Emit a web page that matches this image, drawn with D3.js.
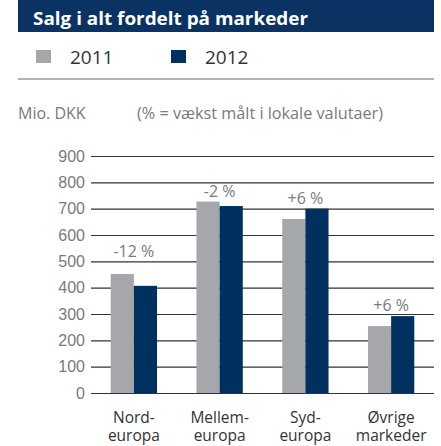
<!DOCTYPE html>
<html lang="da">
<head>
    <meta charset="UTF-8">
    <title>Salg i alt fordelt på markeder</title>
    <script src="https://d3js.org/d3.v7.min.js"></script>
    <style>
        body { margin: 0; background: #fff; }
        svg { display: block; font-family: "Open Sans", Lato, sans-serif; }
        .light { fill: #7a7a7a; }
        .tick text { fill: #7a7a7a; font-size: 16px; }
    </style>
</head>
<body>
<svg id="canvas" width="441" height="446"></svg>
<script>
    // data
    const markets = [["Nord-", "europa"], ["Mellem-", "europa"], ["Syd-", "europa"], ["Øvrige", "markeder"]];
    const years = ["2011", "2012"];
    const sales2011 = [452, 727, 661, 254];
    const sales2012 = [407, 710, 700, 292];
    const growth = ["-12 %", "-2 %", "+6 %", "+6 %"];
    const yTicks = [0, 100, 200, 300, 400, 500, 600, 700, 800, 900];

    const gray = "#a6a7ab", navy = "#00305f";
    const svg = d3.select("#canvas");

    // title band
    svg.append("rect").attr("x", 18).attr("y", 0).attr("width", 416).attr("height", 32).attr("fill", "#0a3262");
    svg.append("text").attr("x", 33).attr("y", 25).attr("fill", "#fff")
        .attr("textLength", 275).attr("lengthAdjust", "spacingAndGlyphs")
        .style("font-size", "18px").style("font-weight", "bold").text("Salg i alt fordelt på markeder");

    // legend
    let colors = d3.scaleOrdinal().domain(years).range([gray, navy]);
    let legendX = d3.scalePoint().domain(years).range([36, 171]);
    let lg = svg.selectAll(".legend").data(years).enter().append("g")
        .attr("transform", d => "translate(" + legendX(d) + ",50)");
    lg.append("rect").attr("width", 15).attr("height", 13).attr("fill", d => colors(d));
    lg.append("text").attr("x", 34).attr("y", 14).attr("fill", "#333").style("font-size", "19px").text(d => d);
    svg.append("line").attr("x1", 18).attr("x2", 434).attr("y1", 79).attr("y2", 79)
        .attr("stroke", "#666").attr("stroke-width", 1.2);

    svg.append("text").attr("class", "light").attr("x", 18).attr("y", 119)
        .style("font-size", "16px").text("Mio. DKK");
    svg.append("text").attr("class", "light").attr("x", 137).attr("y", 119)
        .attr("textLength", 246).attr("lengthAdjust", "spacingAndGlyphs")
        .style("font-size", "16px").text("(%  = vækst målt i lokale valutaer)");

    // scales
    let x = d3.scaleBand().domain(d3.range(markets.length)).range([91, 434])
        .paddingInner(0.46).paddingOuter(0.23);
    let xs = d3.scaleBand().domain(years).range([0, x.bandwidth()]);
    let y = d3.scaleLinear().domain([0, 900]).range([393, 156]);

    // grid + y axis
    let yAxis = d3.axisLeft(y).tickValues(yTicks).tickSize(0).tickPadding(6);
    let ag = svg.append("g").attr("transform", "translate(91,0)").call(yAxis);
    ag.select(".domain").remove();
    ag.selectAll(".tick text").attr("font-family", null).attr("font-size", null);
    ag.selectAll(".tick line").attr("x2", 343).attr("stroke", "#333").attr("stroke-width", 1.1);

    // bars
    let groups = svg.selectAll(".market").data(markets).enter().append("g")
        .attr("transform", (d, i) => "translate(" + x(i) + ",0)");
    groups.selectAll("rect")
        .data((d, i) => [sales2011[i], sales2012[i]].map((v, k) => ({year: years[k], value: v})))
        .enter().append("rect")
        .attr("x", d => xs(d.year))
        .attr("width", xs.bandwidth())
        .attr("y", d => y(d.value))
        .attr("height", d => y(0) - y(d.value))
        .attr("fill", d => colors(d.year));

    // growth labels: just above the taller bar, pushed over a gridline if they would sit on it
    function labelY(i) {
        let base = y(Math.max(sales2011[i], sales2012[i])) - 5;
        let hit = yTicks.map(y).find(g => g > base - 12 && g < base + 2);
        return hit === undefined ? base : hit - 4;
    }
    groups.append("text").attr("class", "light")
        .attr("x", x.bandwidth() / 2)
        .attr("y", (d, i) => labelY(i))
        .attr("text-anchor", "middle")
        .style("font-size", "16px")
        .text((d, i) => growth[i]);

    // category labels
    let cl = groups.append("text").attr("text-anchor", "middle").attr("fill", "#333").style("font-size", "15.5px");
    cl.append("tspan").attr("x", x.bandwidth() / 2).attr("y", 423).text(d => d[0]);
    cl.append("tspan").attr("x", x.bandwidth() / 2).attr("y", 441).text(d => d[1]);
</script>
</body>
</html>
